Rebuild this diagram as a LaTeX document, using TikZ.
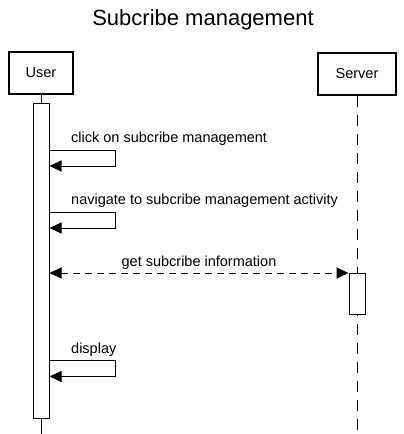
\documentclass[tikz,border=0pt]{standalone}
\usepackage{fontspec}
\setmainfont{Liberation Sans}
\usetikzlibrary{arrows.meta}
\begin{document}
\begin{tikzpicture}[x=1pt,y=-1pt,
  actor/.style={draw,line width=2pt,minimum height=42pt,inner sep=0pt,font=\fontsize{14.5}{17}\selectfont},
  activation/.style={draw,fill=white,line width=1pt,minimum width=16pt,inner sep=0pt},
  msg/.style={-{Triangle[length=12pt,width=11pt]},line width=1pt},
  reply/.style={{Triangle[length=12pt,width=11pt]}-{Triangle[length=12pt,width=11pt]},line width=1pt,dash pattern=on 7pt off 5pt},
  lifeline/.style={line width=1pt,dash pattern=on 11pt off 8pt},
  lbl/.style={inner sep=0pt,font=\fontsize{14.5}{17}\selectfont}]
\useasboundingbox (0,0) rectangle (404,434);
\node [inner sep=0pt,anchor=base,font=\fontsize{22}{26}\selectfont,name=title] at (203,25) {Subcribe management};
\node [actor,name=user,minimum width=64pt] at (41,73) {User};
\node [actor,name=server,minimum width=78pt] at (357,73.5) {Server};
\coordinate (userend) at (41,434);
\coordinate (serverend) at (357,434);
\draw[line width=1pt] (user.south)--(userend);
\draw[lifeline] (server.south)--(serverend);
\node [activation,name=useract,minimum height=315pt] at (41,260.5) {};
\node [activation,name=serveract,minimum height=41pt] at (357,294) {};
\coordinate (click1) at (115,150);
\coordinate (click2) at (115,166);
\coordinate (nav1) at (115,212);
\coordinate (nav2) at (115,228);
\coordinate (disp1) at (115,360.5);
\coordinate (disp2) at (115,376.5);
\draw[msg] (click1 -| useract.east)--(click1)--(click2)--(click2 -| useract.east);
\draw[msg] (nav1 -| useract.east)--(nav1)--(nav2)--(nav2 -| useract.east);
\draw[reply] (useract.east |- serveract.north)--(serveract.north west);
\draw[msg] (disp1 -| useract.east)--(disp1)--(disp2)--(disp2 -| useract.east);
\node [lbl,anchor=base west,name=clicklbl] at (71,142.5) {click on subcribe management};
\node [lbl,anchor=base west,name=navlbl] at (71,204.5) {navigate to subcribe management activity};
\node [lbl,anchor=base,name=getlbl] at (199,266) {get subcribe information};
\node [lbl,anchor=base west,name=displbl] at (71,353) {display};
\end{tikzpicture}
\end{document}
